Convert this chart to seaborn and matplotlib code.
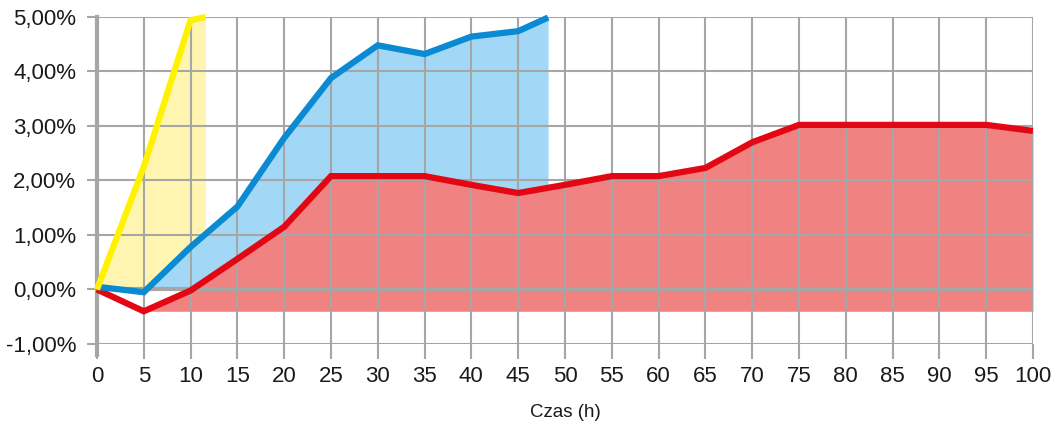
import numpy as np
import pandas as pd
import seaborn as sns
import matplotlib.pyplot as plt
from matplotlib.ticker import FuncFormatter

# data (values in %)
yellow_x = [0, 5, 10, 11.6]
yellow_y = [0.0, 2.25, 4.94, 5.0]

blue_x = [0, 5, 10, 15, 20, 25, 30, 35, 40, 45, 48.2]
blue_y = [0.05, -0.05, 0.78, 1.52, 2.78, 3.88, 4.48, 4.32, 4.64, 4.74, 4.99]

red_x = [0, 5, 10, 15, 20, 25, 30, 35, 40, 45, 50, 55, 60, 65, 70, 75, 80, 85, 90, 95, 100]
red_y = [0.0, -0.40, -0.02, 0.56, 1.15, 2.08, 2.08, 2.08, 1.92, 1.77, 1.92, 2.08, 2.08,
         2.23, 2.70, 3.02, 3.02, 3.02, 3.02, 3.02, 2.91]
red_base = -0.4

x_ticks = list(range(0, 101, 5))
y_ticks = [-1, 0, 1, 2, 3, 4, 5]

GRID = "#a6a6a6"

sns.set_theme(style="white")
plt.rcParams['font.family'] = ['Liberation Sans', 'DejaVu Sans']

fig = plt.figure(figsize=(10.55, 4.28), dpi=100)
ax = fig.add_axes([0.0919, 0.1963, 0.9791 - 0.0919, 0.9603 - 0.1963])

# fills
ax.fill_between(yellow_x, yellow_y, 0, color="#fff5b1", lw=0, zorder=1)
ax.fill_between(blue_x, blue_y, 0, color="#a2d8f5", lw=0, zorder=1.1)
ax.fill_between(red_x[1:], red_y[1:], red_base, color="#f08282", lw=0, zorder=1.2)

# lines
df_red = pd.DataFrame({"x": red_x, "y": red_y})
df_blue = pd.DataFrame({"x": blue_x, "y": blue_y})
df_yel = pd.DataFrame({"x": yellow_x, "y": yellow_y})
for d, c, z in [(df_red, "#e30613", 3), (df_blue, "#0a8ad2", 3.1), (df_yel, "#fff200", 3.2)]:
    sns.lineplot(data=d, x="x", y="y", color=c, lw=4.5, ax=ax, zorder=z,
                 clip_on=False, solid_capstyle="butt", solid_joinstyle="miter",
                 estimator=None, sort=False)

ax.set_xlim(0, 100)
ax.set_ylim(-1, 5)
ax.set_xticks(x_ticks)
ax.set_yticks(y_ticks)
ax.yaxis.set_major_formatter(FuncFormatter(lambda v, p: f"{v:.2f}%".replace(".", ",")))

ax.set_axisbelow("line")
ax.grid(True, color=GRID, lw=1.5)
ax.axhline(0, color=GRID, lw=3, zorder=1.6)

for s in ["top", "right", "bottom"]:
    ax.spines[s].set_visible(False)
ax.spines["left"].set_color(GRID)
ax.spines["left"].set_linewidth(3)
ax.spines["left"].set_zorder(1.7)
ax.spines["left"].set_bounds(-1.2, 5)

ax.tick_params(axis="x", length=11, width=1.5, color=GRID, labelsize=16, pad=5,
               bottom=True, labelcolor="#1a1a1a")
ax.tick_params(axis="y", length=7, width=1.5, color=GRID, labelsize=16, pad=8,
               left=True, labelcolor="#1a1a1a")

ax.set_xlabel("Czas (h)", fontsize=13.5, labelpad=12, color="#1a1a1a")
ax.set_ylabel("")

fig.savefig("out.png", dpi=100)
